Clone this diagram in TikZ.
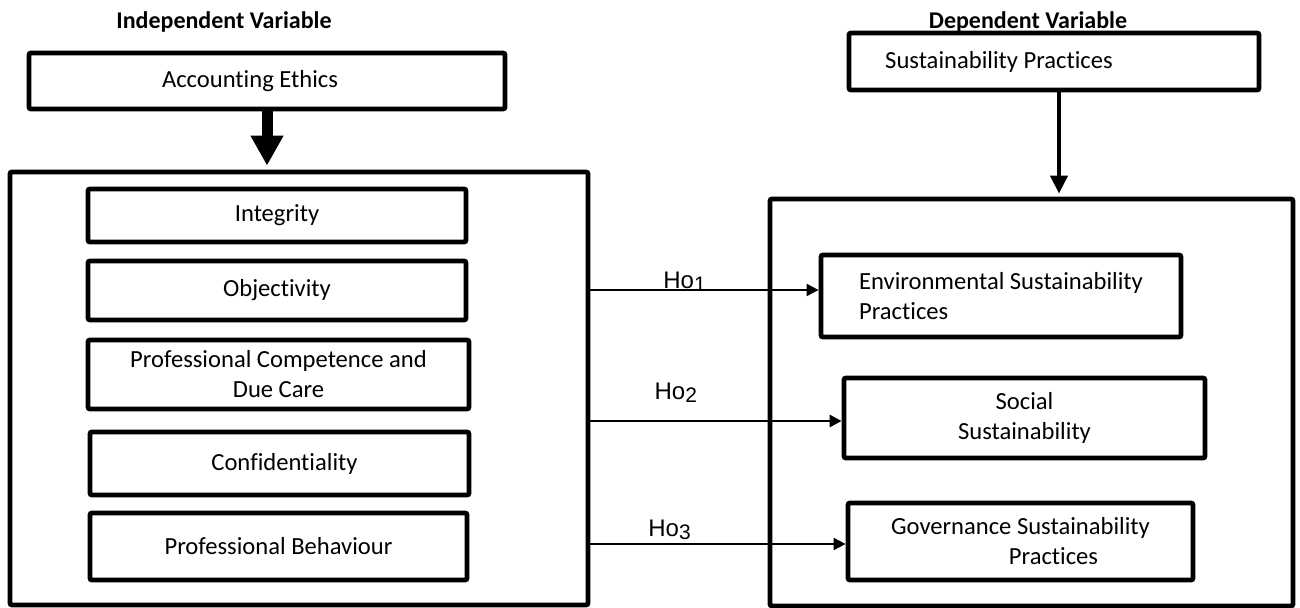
\documentclass[tikz,border=0pt]{standalone}
\usepackage{fontspec}
\setmainfont[Ligatures=NoCommon]{Carlito}
\newfontfamily\hofont{Liberation Sans}
\usetikzlibrary{arrows.meta,positioning}
\newcommand{\boxfont}{\fontsize{12.3}{15}\selectfont}
\newcommand{\headfont}{\fontsize{12}{14}\selectfont\bfseries}
\newcommand{\hlab}[1]{{\hofont\fontsize{12}{14}\selectfont Ho\raisebox{-1.5pt}{\fontsize{10.5}{12}\selectfont #1}}}

\begin{document}
\begin{tikzpicture}[x=0.5pt,y=-0.5pt,
  ebox/.style={draw, line width=2.4pt, rounded corners=1pt, inner sep=0pt, align=center, font=\boxfont},
  hoarrow/.style={line width=1pt, -{Triangle[length=6pt,width=6pt]}}]
\useasboundingbox (0,0) rectangle (1300,608);
% headings
\node[font=\headfont] (indtitle) at (224,22) {Independent Variable};
\node[font=\headfont] (deptitle) at (1028,22) {Dependent Variable};
% outer frames
\node[ebox, minimum width=289pt, minimum height=216.5pt] (leftbox) at (299,388.5) {};
\node[ebox, minimum width=261.5pt, minimum height=203.5pt] (rightbox) at (1031.5,402.5) {};
% independent side
\node[ebox, minimum width=238pt, minimum height=28pt] (accbox) at (267,81) {Accounting Ethics\hspace*{17pt}};
\node[ebox, minimum width=189pt, minimum height=26.5pt] (integ) at (277,215.5) {Integrity};
\node[ebox, minimum width=189pt, minimum height=29.5pt] (objec) at (277,290.5) {Objectivity};
\node[ebox, minimum width=190.5pt, minimum height=34.5pt] (pcdc) at (278.5,374.5) {Professional Competence and\\Due Care};
\node[ebox, minimum width=189.5pt, minimum height=31.5pt] (conf) at (279.5,463.5) {\hspace*{5pt}Confidentiality};
\node[ebox, minimum width=188.5pt, minimum height=33.5pt] (pbeh) at (278.5,546.5) {Professional Behaviour};
% dependent side
\node[ebox, minimum width=205pt, minimum height=28.5pt] (sustbox) at (1054,61.5) {Sustainability Practices\hspace*{55pt}};
\node[ebox, align=left, minimum width=180pt, minimum height=41pt] (envbox) at (1001,296) {Environmental Sustainability\\Practices};
\node[ebox, minimum width=180.5pt, minimum height=40pt] (socbox) at (1024.5,418) {Social\\Sustainability};
\node[ebox, minimum width=172.5pt, minimum height=38.5pt] (govbox) at (1020.5,541.5) {Governance Sustainability\\\hspace*{33pt}Practices};
% arrows
\draw[line width=5.5pt, -{Triangle[length=15pt,width=15.5pt]}, shorten >=2pt] (accbox.south) -- (leftbox.north -| accbox.south);
\coordinate (sd) at ([xshift=2.5pt]sustbox.south);
\draw[line width=2pt, -{Triangle[length=9pt,width=8.5pt]}, shorten >=1.5pt] (sd) -- (rightbox.north -| sd);
\coordinate (h1) at ([yshift=3pt]envbox.west);
\coordinate (h2) at ([yshift=-1.5pt]socbox.west);
\coordinate (h3) at ([yshift=-1.25pt]govbox.west);
\draw[hoarrow] ([xshift=-1.5pt]leftbox.east |- h1) -- node[pos=0.42, anchor=base, yshift=0.5pt] (ho1) {\hlab{1}} (h1);
\draw[hoarrow, line width=1.4pt] (leftbox.east |- h2) -- node[pos=0.34, anchor=base, yshift=10.5pt] (ho2) {\hlab{2}} (h2);
\draw[hoarrow] (leftbox.east |- h3) -- node[pos=0.31, anchor=base, yshift=3.5pt] (ho3) {\hlab{3}} (h3);
\end{tikzpicture}
\end{document}
